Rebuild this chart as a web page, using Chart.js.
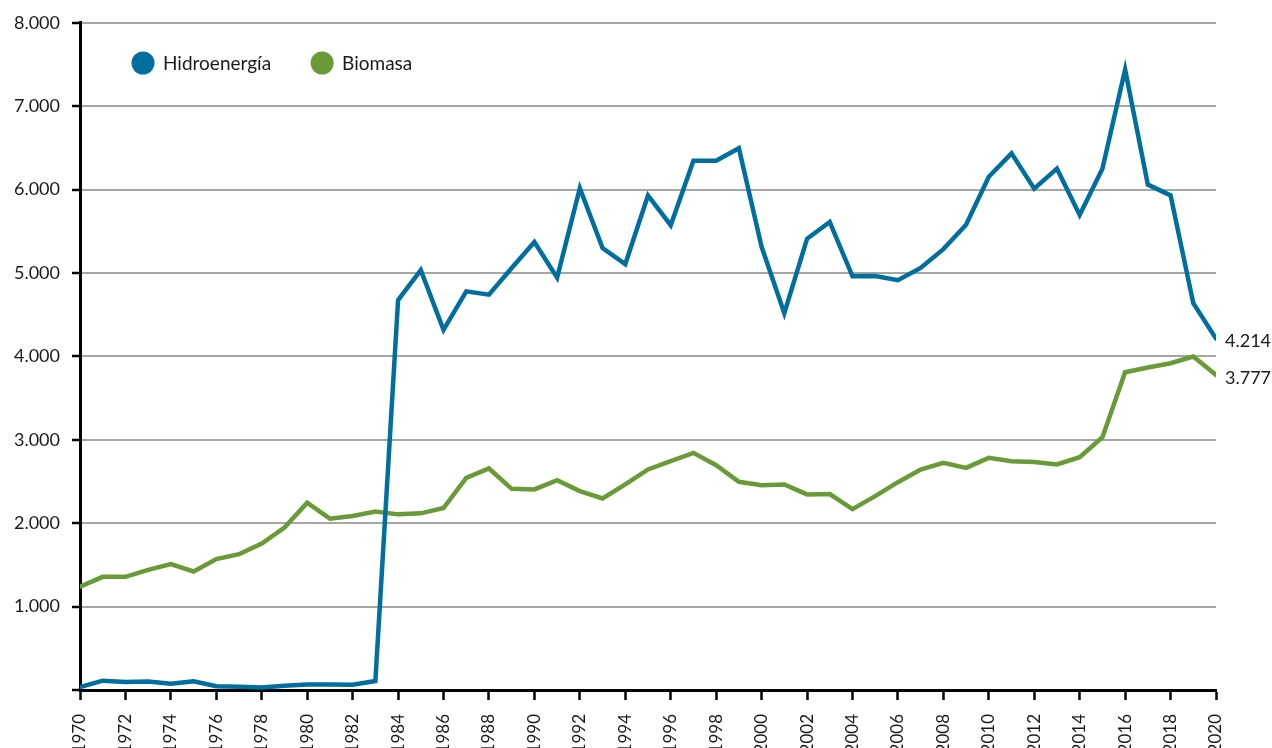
<!DOCTYPE html>
<html lang="es">
<head>
<meta charset="utf-8">
<title>Hidroenergía y biomasa, 1970-2020</title>
<script src="https://cdn.jsdelivr.net/npm/chart.js@4.4.1/dist/chart.umd.min.js"></script>
<style>
  html, body { margin: 0; padding: 0; background: #fff; overflow: hidden; }
  #wrap { position: relative; width: 1272px; height: 748px; }
</style>
</head>
<body>
<div id="wrap"><canvas id="energia" width="1272" height="748"></canvas></div>
<script>
// Años 1970-2020
const years = [
  1970, 1971, 1972, 1973, 1974, 1975, 1976, 1977, 1978, 1979,
  1980, 1981, 1982, 1983, 1984, 1985, 1986, 1987, 1988, 1989,
  1990, 1991, 1992, 1993, 1994, 1995, 1996, 1997, 1998, 1999,
  2000, 2001, 2002, 2003, 2004, 2005, 2006, 2007, 2008, 2009,
  2010, 2011, 2012, 2013, 2014, 2015, 2016, 2017, 2018, 2019,
  2020
];

const hidroenergia = [
  35, 112, 95, 102, 75, 105, 45, 38, 30, 52,
  66, 66, 62, 108, 4675, 5035, 4318, 4780, 4740, 5060,
  5372, 4945, 6017, 5298, 5107, 5930, 5573, 6345, 6345, 6496,
  5314, 4519, 5410, 5611, 4960, 4965, 4914, 5061, 5286, 5579,
  6154, 6435, 6012, 6251, 5697, 6251, 7440, 6060, 5931, 4638,
  4214
];

const biomasa = [
  1238, 1357, 1357, 1441, 1509, 1421, 1569, 1628, 1755, 1947,
  2245, 2054, 2086, 2140, 2106, 2118, 2182, 2544, 2656, 2412,
  2405, 2516, 2385, 2297, 2465, 2644, 2743, 2843, 2696, 2496,
  2456, 2465, 2345, 2350, 2168, 2325, 2492, 2644, 2723, 2663,
  2783, 2743, 2735, 2704, 2791, 3030, 3810, 3866, 3918, 3998,
  3777
];

const seriesLabels = ['Hidroenergía', 'Biomasa'];
const seriesColors = ['#006fa0', '#689b35'];

const FONT = 'Lato, "Open Sans", sans-serif';
const TEXT = '#1a1a1a';

// 8000 -> "8.000"
function miles(v) {
  return String(Math.round(v)).replace(/\B(?=(\d{3})+(?!\d))/g, '.');
}

function toPoints(values) {
  return values.map((v, i) => ({ x: years[i], y: v }));
}

// leyenda con círculos arriba a la izquierda
const leyenda = {
  id: 'leyenda',
  afterDraw(chart) {
    const ctx = chart.ctx;
    ctx.save();
    ctx.font = '19px ' + FONT;
    ctx.textBaseline = 'middle';
    let x = 143;
    const y = 63;
    chart.data.datasets.forEach(ds => {
      ctx.fillStyle = ds.borderColor;
      ctx.beginPath();
      ctx.arc(x, y, 11.5, 0, Math.PI * 2);
      ctx.fill();
      ctx.fillStyle = TEXT;
      ctx.fillText(ds.label, x + 20, y + 1);
      x += 20 + ctx.measureText(ds.label).width + 51;
    });
    ctx.restore();
  }
};

// valor del último año al final de cada línea
const valorFinal = {
  id: 'valorFinal',
  afterDatasetsDraw(chart) {
    const ctx = chart.ctx;
    ctx.save();
    ctx.font = '18px ' + FONT;
    ctx.fillStyle = TEXT;
    ctx.textBaseline = 'middle';
    chart.data.datasets.forEach((ds, i) => {
      const meta = chart.getDatasetMeta(i);
      const last = meta.data.length - 1;
      const pt = meta.data[last];
      ctx.fillText(miles(ds.data[last].y), pt.x + 9, pt.y + 3);
    });
    ctx.restore();
  }
};

new Chart(document.getElementById('energia'), {
  type: 'line',
  data: {
    datasets: [hidroenergia, biomasa].map((values, i) => ({
      label: seriesLabels[i],
      data: toPoints(values),
      borderColor: seriesColors[i],
      backgroundColor: seriesColors[i],
      borderWidth: 4.5,
      borderCapStyle: 'round',
      pointRadius: 0,
      tension: 0,
      fill: false
    }))
  },
  options: {
    responsive: false,
    animation: false,
    layout: { padding: { top: 18, right: 56, bottom: 0, left: 0 } },
    plugins: {
      legend: { display: false },
      tooltip: { enabled: false }
    },
    scales: {
      x: {
        type: 'linear',
        min: 1970,
        max: 2020,
        offset: false,
        grid: {
          drawOnChartArea: false,
          drawTicks: true,
          tickLength: 10,
          tickColor: '#000',
          tickWidth: 2.5
        },
        border: { display: true, color: '#000', width: 3 },
        ticks: {
          stepSize: 2,
          autoSkip: false,
          minRotation: 90,
          maxRotation: 90,
          padding: 14,
          color: TEXT,
          font: { family: FONT, size: 17 },
          callback: v => String(v)
        },
        afterFit: s => { s.height = 58; }
      },
      y: {
        min: 0,
        max: 8000,
        grid: {
          color: c => (c.tick && c.tick.value === 0) ? 'rgba(0,0,0,0)' : '#a6a6a6',
          lineWidth: 2,
          drawTicks: true,
          tickLength: 8,
          tickColor: '#000',
          tickWidth: 2.5
        },
        border: { display: true, color: '#000', width: 3 },
        ticks: {
          stepSize: 1000,
          padding: 12,
          color: TEXT,
          font: { family: FONT, size: 18 },
          callback: v => v === 0 ? '' : miles(v)
        },
        afterFit: s => { s.width = 80; }
      }
    }
  },
  plugins: [leyenda, valorFinal]
});
</script>
</body>
</html>
